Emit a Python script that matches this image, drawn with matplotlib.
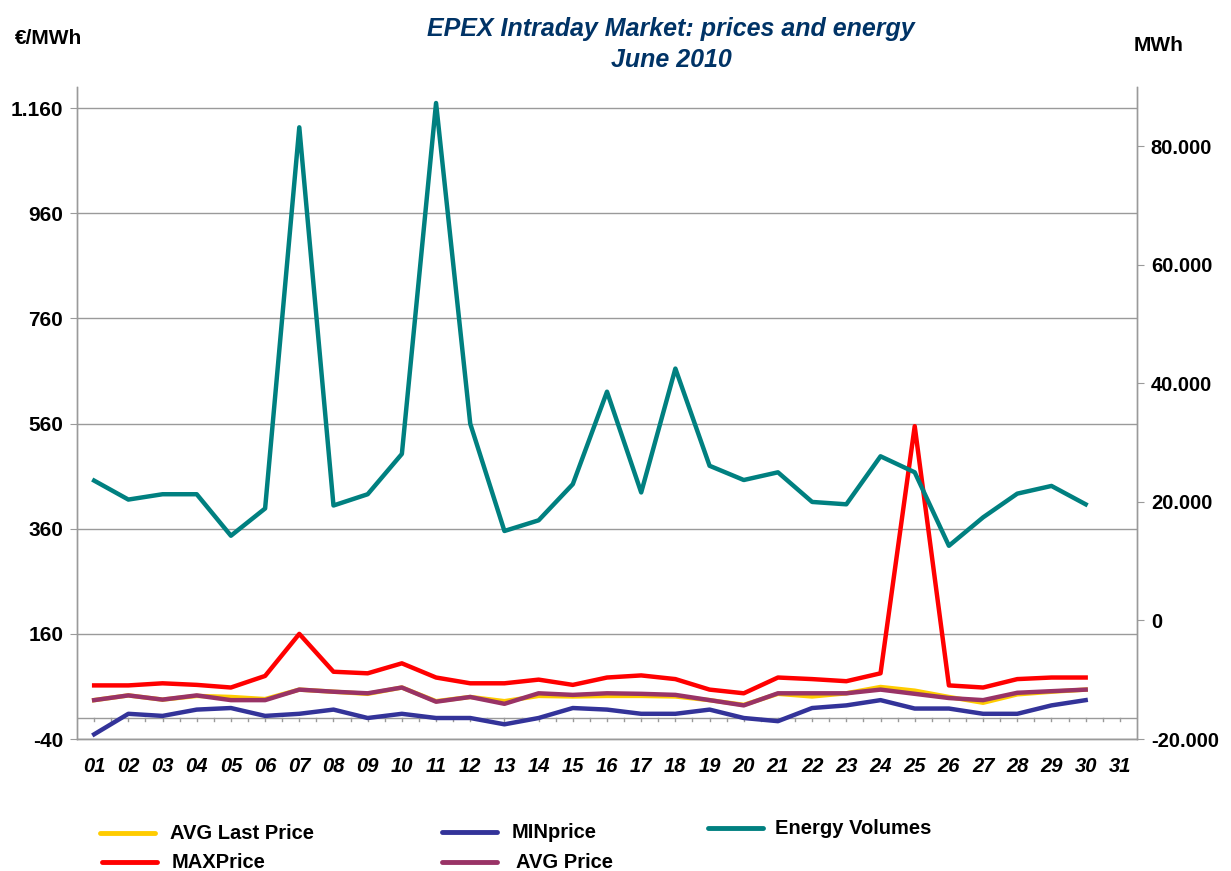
import numpy as np
import matplotlib
matplotlib.use('Agg')
import matplotlib.pyplot as plt
from matplotlib.lines import Line2D
from matplotlib.ticker import FuncFormatter

plt.rcParams['font.family'] = ['Liberation Sans', 'DejaVu Sans']

# Days of June 2010 (category axis has 31 slots, data for 30 days)
days = [f"{d:02d}" for d in range(1, 32)]
day_idx = np.arange(1, 31)

# Prices (EUR/MWh)
avg_last_price = [34, 43, 35, 42, 40, 36, 54, 50, 46, 58, 32, 40, 32, 42, 41,
                  42, 42, 41, 34, 25, 46, 41, 47, 59, 52, 40, 29, 45, 50, 54]
max_price = [62, 62, 66, 63, 58, 80, 160, 88, 85, 104, 77, 66, 66, 73, 63,
             77, 81, 74, 54, 47, 77, 74, 70, 85, 555, 62, 58, 74, 77, 77]
min_price = [-31, 8, 4, 16, 19, 4, 8, 16, 0, 8, 0, 0, -12, 0, 19,
             16, 8, 8, 16, 0, -6, 19, 24, 34, 18, 18, 8, 8, 24, 34]
avg_price = [34, 43, 35, 43, 34, 34, 54, 50, 47, 58, 31, 40, 27, 47, 44,
             47, 46, 44, 34, 24, 47, 47, 47, 54, 46, 38, 34, 48, 51, 54]

# Energy volumes (MWh), right axis
energy_volumes = [23600, 20400, 21300, 21300, 14300, 18900, 83200, 19400, 21300, 28100,
                  87300, 33200, 15100, 16900, 23000, 38600, 21600, 42500, 26100, 23700,
                  25000, 20000, 19600, 27700, 25000, 12600, 17400, 21400, 22700, 19600]

left_ticks = [-40, 160, 360, 560, 760, 960, 1160]
right_ticks = [-20000, 0, 20000, 40000, 60000, 80000]

fig = plt.figure(figsize=(12.31, 8.71), dpi=100)
ax = fig.add_axes([0.0626, 0.1515, 0.861, 0.7486])
ax2 = ax.twinx()

grid_col = '#9a9a9a'

# price lines
ax.plot(day_idx, max_price, color='#FF0000', lw=3.2, zorder=3)
ax.plot(day_idx, min_price, color='#333399', lw=3.2, zorder=3)
ax.plot(day_idx, avg_last_price, color='#FFCC00', lw=3.2, zorder=3)
ax.plot(day_idx, avg_price, color='#993366', lw=3.2, zorder=4)

# energy on the secondary axis
ax2.plot(day_idx, energy_volumes, color='#008080', lw=3.2)

ax.set_xlim(0.5, 31.5)
ax.set_ylim(-40, 1200)
ax2.set_ylim(-20000, 90000)

ax.set_yticks(left_ticks)
ax2.set_yticks(right_ticks)

def dot_thousands(v, pos):
    return f"{int(v):,}".replace(',', '.')

ax.yaxis.set_major_formatter(FuncFormatter(dot_thousands))
ax2.yaxis.set_major_formatter(FuncFormatter(dot_thousands))

for t in left_ticks:
    ax.axhline(t, color=grid_col, lw=1.0, zorder=1)

# category axis crossing at 0
ax.axhline(0, color=grid_col, lw=1.0, zorder=1)
for x in np.arange(1, 31.5, 0.5):
    ax.plot([x, x], [0, -6], color=grid_col, lw=1.0, zorder=1, clip_on=False)

ax.set_xticks(np.arange(1, 32))
ax.set_xticklabels(days, fontsize=14.5, fontweight='bold', fontstyle='italic')
ax.tick_params(axis='x', length=0, pad=13)
ax.tick_params(axis='y', length=5, color=grid_col, labelsize=15, pad=5)
ax2.tick_params(axis='y', length=5, color=grid_col, labelsize=14.5, pad=5)
for lab in ax.get_yticklabels() + ax2.get_yticklabels():
    lab.set_fontweight('bold')

for a in (ax, ax2):
    a.spines['top'].set_visible(False)
    for s in ('left', 'right', 'bottom'):
        a.spines[s].set_color(grid_col)
        a.spines[s].set_linewidth(1.0)

fig.text(0.545, 0.980, "EPEX Intraday Market: prices and energy", ha='center', va='top',
         fontsize=18, fontweight='bold', fontstyle='italic', color='#003366')
fig.text(0.545, 0.945, "June 2010", ha='center', va='top',
         fontsize=18, fontweight='bold', fontstyle='italic', color='#003366')
fig.text(0.012, 0.956, "€/MWh", ha='left', va='center', fontsize=15, fontweight='bold')
fig.text(0.921, 0.948, "MWh", ha='left', va='center', fontsize=15, fontweight='bold')

# legend drawn in figure coordinates
legend_items = [
    ("AVG Last Price", '#FFCC00', 100, 833, 170),
    ("MAXPrice", '#FF0000', 102, 862, 172),
    ("MINprice", '#333399', 442, 832, 512),
    ("AVG Price", '#993366', 442, 862, 516),
    ("Energy Volumes", '#008080', 708, 828, 775),
]
W, H = 1231.0, 871.0
for label, col, x0, y0, tx in legend_items:
    fig.add_artist(Line2D([x0 / W, (x0 + 55) / W], [1 - y0 / H, 1 - y0 / H],
                          color=col, lw=3.5, solid_capstyle='round'))
    fig.text(tx / W, 1 - y0 / H, label, ha='left', va='center', fontsize=14.5, fontweight='bold')

fig.savefig('out.png', dpi=100)
